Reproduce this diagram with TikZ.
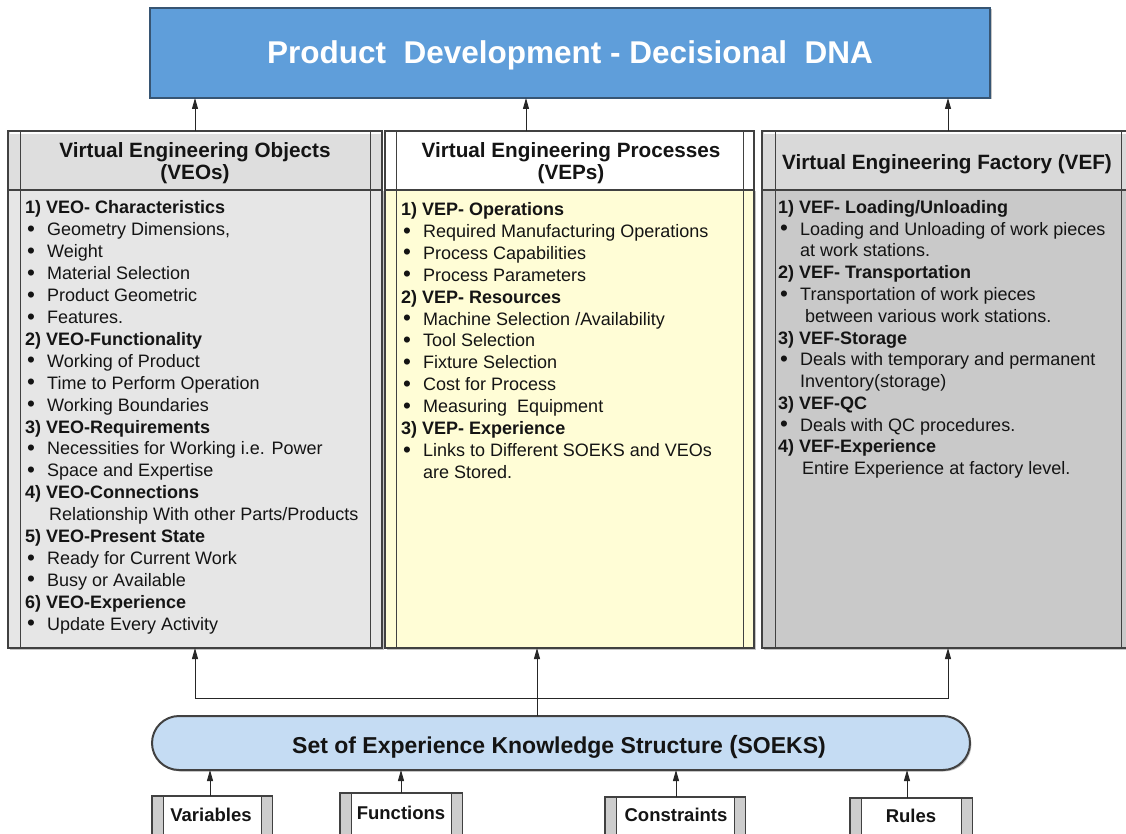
\documentclass[tikz,border=0pt]{standalone}
\usepackage{fontspec}
\setmainfont{Liberation Sans}
\usetikzlibrary{arrows.meta,shadows}
\definecolor{topblue}{RGB}{95,158,218}
\definecolor{topborder}{RGB}{55,85,115}
\definecolor{lhead}{RGB}{222,222,222}
\definecolor{lbody}{RGB}{230,230,230}
\definecolor{mhead}{RGB}{255,255,255}
\definecolor{mbody}{RGB}{255,253,214}
\definecolor{rhead}{RGB}{217,217,217}
\definecolor{rbody}{RGB}{201,201,201}
\definecolor{soeksblue}{RGB}{197,220,243}
\definecolor{bord}{RGB}{65,65,65}
\definecolor{strip}{RGB}{205,205,205}
\newcommand\bl{\makebox[22pt][l]{\hspace{2pt}\raisebox{-0.6pt}{\scalebox{1.25}{\textbullet}}}}
\newcommand\hd[1]{\textbf{#1}}
\newcommand\sidebars[2]{%
  \draw[bord, line width=0.8pt] ([xshift=#2]#1.north west) -- ([xshift=#2]#1.south west)
       ([xshift=-#2]#1.north east) -- ([xshift=-#2]#1.south east);}
\newcommand\stripbars[2]{%
  \fill[strip] (#1.north west) rectangle ([xshift=#2]#1.south west);
  \fill[strip] (#1.north east) rectangle ([xshift=-#2]#1.south east);
  \sidebars{#1}{#2}
  \draw[bord, line width=1pt] (#1.north west) rectangle (#1.south east);}
\newcommand\bevel[1]{%
  \draw[white, line width=1.2pt] ([shift={(1.5pt,-2pt)}]#1.north west) -- ([shift={(-1.5pt,-2pt)}]#1.north east);}
\begin{document}
\begin{tikzpicture}[x=1pt,y=-1pt,
  box/.style={draw=bord, line width=1.2pt, inner sep=0pt, outer sep=0pt, anchor=north west},
  shad/.style={drop shadow={shadow xshift=1.5pt, shadow yshift=-1.5pt, opacity=0.45}},
  arr/.style={-{Triangle[width=6pt,length=11pt]}, line width=0.9pt, draw=black!85},
  txt/.style={anchor=base west, inner sep=0pt, font=\fontsize{18}{22}\selectfont, text=black!92},
  htxt/.style={anchor=base, inner sep=0pt, font=\fontsize{20.7}{24}\selectfont\bfseries, text=black!92},
  btxt/.style={anchor=base, inner sep=0pt, font=\fontsize{18.5}{22}\selectfont\bfseries, text=black!92}]
\useasboundingbox (0,0) rectangle (1126,834);
\clip (0,0) rectangle (1126,834);
\fill[white] (0,0) rectangle (1126,834);

% top box
\node[box, shad, fill=topblue, draw=topborder, minimum width=840pt, minimum height=90pt] (top) at (150,8) {};
\node[anchor=base, inner sep=0pt, text=white, font=\fontsize{31.5}{34}\selectfont\bfseries] (title) at (570,63.5)
  {Product\ \ Development - Decisional\ \ DNA};

% columns
\node[box, shad, fill=lbody, minimum width=374pt, minimum height=458pt] (Lb) at (8,190) {};
\node[box, fill=lhead, minimum width=374pt, minimum height=59pt] (Lh) at (8,131) {};
\node[box, shad, fill=mbody, minimum width=369pt, minimum height=458pt] (Mb) at (385,190) {};
\node[box, fill=mhead, minimum width=369pt, minimum height=59pt] (Mh) at (385,131) {};
\node[box, shad, fill=rbody, minimum width=372pt, minimum height=458pt] (Rb) at (762,190) {};
\node[box, fill=rhead, minimum width=372pt, minimum height=59pt] (Rh) at (762,131) {};
\bevel{Lh}
\bevel{Rh}
\sidebars{Lb}{12pt}
\sidebars{Lh}{12pt}
\sidebars{Mb}{11pt}
\sidebars{Mh}{11pt}
\sidebars{Rb}{13pt}
\sidebars{Rh}{13pt}

% headers
\node[htxt] (Lh1) at (195,157.5) {Virtual Engineering Objects};
\node[htxt] (Lh2) at (195,180) {(VEOs)};
\node[htxt] (Mh1) at (571,157.5) {Virtual Engineering Processes};
\node[htxt] (Mh2) at (571,180) {(VEPs)};
\node[htxt] (Rh1) at (947,169.5) {Virtual Engineering Factory (VEF)};

% left column text
\foreach \t [count=\i] in {
  {\hd{1) VEO- Characteristics}},
  {\bl Geometry Dimensions,},
  {\bl Weight},
  {\bl Material Selection},
  {\bl Product Geometric},
  {\bl Features.},
  {\hd{2) VEO-Functionality}},
  {\bl Working of Product},
  {\bl Time to Perform Operation},
  {\bl Working Boundaries},
  {\hd{3) VEO-Requirements}},
  {\bl Necessities for Working i.e. Power},
  {\bl Space and Expertise},
  {\hd{4) VEO-Connections}},
  {\hspace{24pt}Relationship With other Parts/Products},
  {\hd{5) VEO-Present State}},
  {\bl Ready for Current Work},
  {\bl Busy or Available},
  {\hd{6) VEO-Experience}},
  {\bl Update Every Activity}}
  \node[txt] (veo\i) at (25,{214+21.9*(\i-1)}) {\t};

% middle column text
\foreach \t [count=\i] in {
  {\hd{1) VEP- Operations}},
  {\bl Required Manufacturing Operations},
  {\bl Process Capabilities},
  {\bl Process Parameters},
  {\hd{2) VEP- Resources}},
  {\bl Machine Selection /Availability},
  {\bl Tool Selection},
  {\bl Fixture Selection},
  {\bl Cost for Process},
  {\bl Measuring\ \ Equipment},
  {\hd{3) VEP- Experience}},
  {\bl Links to Different SOEKS and VEOs},
  {\hspace{22pt}are Stored.}}
  \node[txt] (vep\i) at (401,{215.5+21.9*(\i-1)}) {\t};

% right column text
\foreach \t [count=\i] in {
  {\hd{1) VEF- Loading/Unloading}},
  {\bl Loading and Unloading of work pieces},
  {\hspace{22pt}at work stations.},
  {\hd{2) VEF- Transportation}},
  {\bl Transportation of work pieces},
  {\hspace{27pt}between various work stations.},
  {\hd{3) VEF-Storage}},
  {\bl Deals with temporary and permanent},
  {\hspace{22pt}Inventory(storage)},
  {\hd{3) VEF-QC}},
  {\bl Deals with QC procedures.},
  {\hd{4) VEF-Experience}},
  {\hspace{24pt}Entire Experience at factory level.}}
  \node[txt] (vef\i) at (778,{213.5+21.75*(\i-1)}) {\t};

% SOEKS
\node[box, shad, fill=soeksblue, line width=2pt, rounded corners=27pt, minimum width=818pt, minimum height=54pt] (soeks) at (152,716) {};
\node[anchor=base, inner sep=0pt, font=\fontsize{23}{26}\selectfont\bfseries, text=black!92] (soekstxt) at (559,753)
  {Set of Experience Knowledge Structure {\fontsize{25}{26}\selectfont(}SOEKS)};

% bottom boxes
\node[box, fill=white, minimum width=120pt, minimum height=50pt] (var) at (152,796) {};
\node[box, fill=white, minimum width=122pt, minimum height=50pt] (fun) at (340,793) {};
\node[box, fill=white, minimum width=140pt, minimum height=50pt] (con) at (605,797) {};
\node[box, fill=white, minimum width=122pt, minimum height=50pt] (rul) at (850,798) {};
\stripbars{var}{11pt}
\stripbars{fun}{11pt}
\stripbars{con}{11pt}
\stripbars{rul}{11pt}
\node[btxt] (vart) at (211,821.5) {Variables};
\node[btxt] (funt) at (401,819) {Functions};
\node[btxt] (cont) at (676,821.5) {Constraints};
\node[btxt] (rult) at (911,822) {Rules};

% arrows top
\draw[arr] (Lh.north) -- (Lh.north |- top.south);
\coordinate (mtop) at (526,131);
\draw[arr] (mtop) -- (mtop |- top.south);
\draw[arr] (Rh.north) -- (Rh.north |- top.south);

% arrows from SOEKS to columns
\coordinate (junc) at (537,698);
\draw[arr] (junc |- soeks.north) -- (junc |- Mb.south);
\draw[arr] (junc) -| (Lb.south);
\draw[arr] (junc) -| (Rb.south);

% arrows from bottom boxes to SOEKS
\draw[arr] ([xshift=-2pt]var.north) -- ([xshift=-2pt]var.north |- soeks.south);
\draw[arr] (fun.north) -- (fun.north |- soeks.south);
\draw[arr] ([xshift=1pt]con.north) -- ([xshift=1pt]con.north |- soeks.south);
\draw[arr] ([xshift=-4pt]rul.north) -- ([xshift=-4pt]rul.north |- soeks.south);
\end{tikzpicture}
\end{document}
